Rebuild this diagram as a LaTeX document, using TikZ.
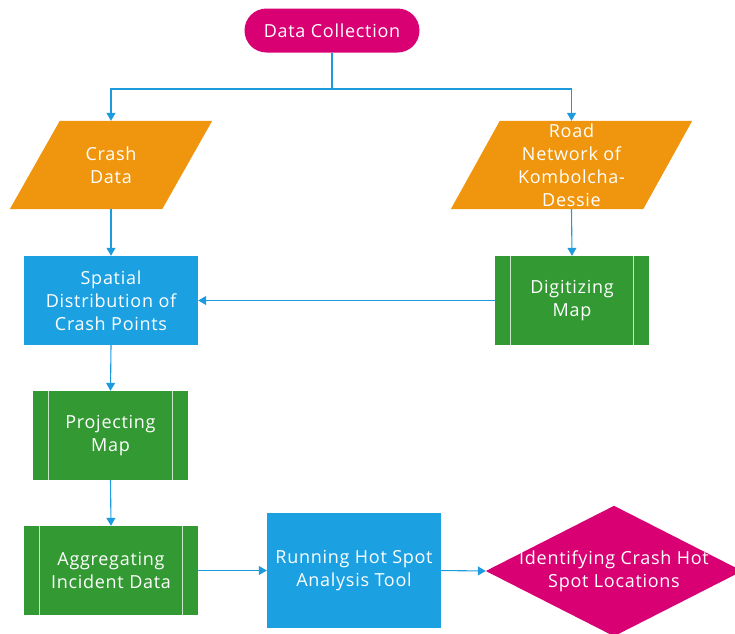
\documentclass[tikz,border=0pt]{standalone}
\usepackage{fontspec}
\setmainfont[LetterSpace=4]{Open Sans}
\usetikzlibrary{arrows.meta,shapes.geometric,backgrounds}
\definecolor{cPink}{HTML}{D80073}
\definecolor{cOrange}{HTML}{F0960E}
\definecolor{cBlue}{HTML}{1BA1E2}
\definecolor{cGreen}{HTML}{339933}
\definecolor{cLine}{HTML}{1E9BDD}
\tikzset{
  txt/.style={text=white, align=center, inner sep=0pt, font=\fontsize{18}{23}\selectfont},
  pill/.style={txt, fill=cPink, rounded corners=22pt, minimum width=175pt, minimum height=44pt},
  para/.style={txt, minimum height=88pt},
  procbox/.style={txt, fill=cBlue, minimum width=174pt, minimum height=89pt},
  predef/.style={txt, fill=cGreen, minimum height=89pt},
  decis/.style={txt, minimum width=256pt, minimum height=130pt},
  arr/.style={draw=cLine, line width=1.1pt, -{Triangle[width=9pt,length=8pt]}},
  plain/.style={draw=cLine, line width=1.1pt},
  inner/.style={draw=white!75!cGreen, line width=0.9pt}
}
\begin{document}
\begin{tikzpicture}[x=1pt,y=-1pt]
\useasboundingbox (0,0) rectangle (735,633);
\clip (0,0) rectangle (735,633);
\node[pill] (dc) at (332,30.5) {Data Collection};
\node[para, minimum width=152pt] (crash) at (111,165) {Crash\\Data};
\node[para, minimum width=192pt] (road) at (571.5,165) {Road\\Network of\\Kombolcha-\\Dessie};
\node[procbox] (spat) at (111,300.5) {Spatial\\Distribution of\\Crash Points};
\node[predef, minimum width=154pt] (dig) at (572,300.5) {Digitizing\\Map};
\node[predef, minimum width=155pt] (proj) at (110.5,435.5) {Projecting\\Map};
\node[predef, minimum width=174pt] (agg) at (111,570.5) {Aggregating\\Incident Data};
\node[procbox, minimum height=115pt] (run) at (354,570.5) {Running Hot Spot\\Analysis Tool};
\node[decis] (id) at (614,571) {Identifying Crash Hot\\Spot Locations};
\coordinate (j) at (332,89);
\begin{scope}[on background layer]
  \fill[cOrange] ([xshift=25pt]crash.north west) -- ([xshift=25pt]crash.north east)
    -- ([xshift=-25pt]crash.south east) -- ([xshift=-25pt]crash.south west) -- cycle;
  \fill[cOrange] ([xshift=24.5pt]road.north west) -- ([xshift=24.5pt]road.north east)
    -- ([xshift=-24.5pt]road.south east) -- ([xshift=-24.5pt]road.south west) -- cycle;
  \fill[cPink] (id.west) -- (id.north) -- (id.east) -- (id.south) -- cycle;
\end{scope}
\foreach \n in {dig,proj,agg}{
  \draw[inner] ([xshift=16pt]\n.north west) -- ([xshift=16pt]\n.south west);
  \draw[inner] ([xshift=-16pt]\n.north east) -- ([xshift=-16pt]\n.south east);
}
\draw[plain] (dc.south) -- (j);
\draw[arr] (j) -| (crash.north);
\draw[arr] (j) -| (road.north);
\draw[arr] (crash.south) -- (spat.north);
\draw[arr] (road.south) -- (dig.north);
\draw[arr] (dig.west) -- (spat.east);
\draw[arr] (spat.south) -- (proj.north);
\draw[arr] (proj.south) -- (agg.north);
\draw[arr] (agg.east) -- (run.west);
\draw[arr] (run.east) -- (id.west);
\end{tikzpicture}
\end{document}
